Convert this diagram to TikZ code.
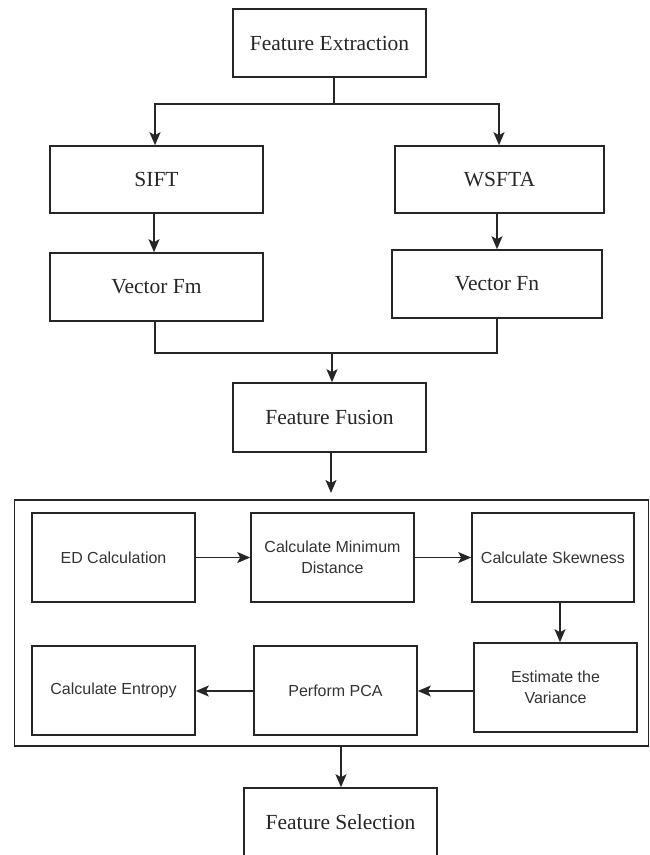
\documentclass[tikz,border=0pt]{standalone}
\usepackage{fontspec}
\setmainfont{Liberation Serif}
\setsansfont{Liberation Sans}
\usetikzlibrary{arrows.meta}
\begin{document}
\begin{tikzpicture}[x=1pt,y=-1pt,
  serifbox/.style={draw=black!85, line width=1.6pt, rectangle, inner sep=0pt, align=center,
    font=\fontsize{21.5}{24}\selectfont, text=black!85},
  sansbox/.style={draw=black!85, line width=1.6pt, rectangle, inner sep=0pt, align=center,
    minimum width=163pt, minimum height=89pt,
    font=\sffamily\fontsize{16}{20.5}\selectfont, text=black!80},
  ln/.style={draw=black!85, line width=1.6pt},
  arr/.style={ln, -{Stealth[length=13pt,width=11pt,inset=3pt]}}
]
\useasboundingbox (0,0) rectangle (650,855);

% top part
\node[serifbox, minimum width=193pt, minimum height=68pt] (fe) at (329.5,43) {Feature Extraction};
\node[serifbox, minimum width=213pt, minimum height=67pt] (sift) at (156.5,179.5) {SIFT};
\node[serifbox, minimum width=209pt, minimum height=67pt] (wsfta) at (499.5,179.5) {WSFTA};
\node[serifbox, minimum width=213pt, minimum height=68pt] (vm) at (156.5,287) {Vector Fm};
\node[serifbox, minimum width=210pt, minimum height=68pt] (vn) at (497,284) {Vector Fn};
\node[serifbox, minimum width=193pt, minimum height=69pt] (ff) at (329.5,417.5) {Feature Fusion};

% big box
\node[draw=black!85, line width=1.6pt, rectangle, inner sep=0pt, minimum width=634pt, minimum height=246pt] (big) at (331.5,623) {};

\node[sansbox] (ed) at (113.5,557.5) {ED Calculation};
\node[sansbox] (cmd) at (332.5,557.5) {Calculate Minimum\\Distance};
\node[sansbox, minimum width=162pt] (skew) at (553,557.5) {Calculate Skewness};
\node[sansbox] (var) at (555.5,687.5) {Estimate the\\Variance};
\node[sansbox] (pca) at (335.5,690.5) {Perform PCA};
\node[sansbox] (ent) at (113.5,690.5) {Calculate Entropy};

\node[serifbox, minimum width=193pt, minimum height=68pt] (fs) at (340.5,822) {Feature Selection};

% connectors top
\coordinate (festem) at (334,77);
\coordinate (fej) at (334,104);
\draw[ln] (festem) -- (fej);
\draw[arr] (fej) -| (sift.north -| 155,0);
\draw[arr] (fej) -| (wsfta.north -| 499,0);
\draw[arr] (sift.south -| 154,0) -- (vm.north -| 154,0);
\draw[arr] (wsfta.south -| 497,0) -- (vn.north -| 497,0);

\coordinate (mj) at (332,353);
\draw[ln] (vm.south -| 155,0) |- (mj);
\draw[ln] (vn.south -| 497,0) |- (mj);
\draw[arr] (mj) -- (ff.north -| 332,0);

\coordinate (bigtop) at (331,493);
\draw[arr] (ff.south -| 331,0) -- (bigtop);

% inner connectors
\draw[arr] (ed.east) -- (cmd.west);
\draw[arr] (cmd.east) -- (skew.west);
\draw[arr] (skew.south -| 560,0) -- (var.north -| 560,0);
\draw[arr] (var.west |- 0,691) -- (pca.east |- 0,691);
\draw[arr] (pca.west |- 0,691) -- (ent.east |- 0,691);

\draw[arr] (big.south -| 341,0) -- (fs.north -| 341,0);
\end{tikzpicture}
\end{document}
